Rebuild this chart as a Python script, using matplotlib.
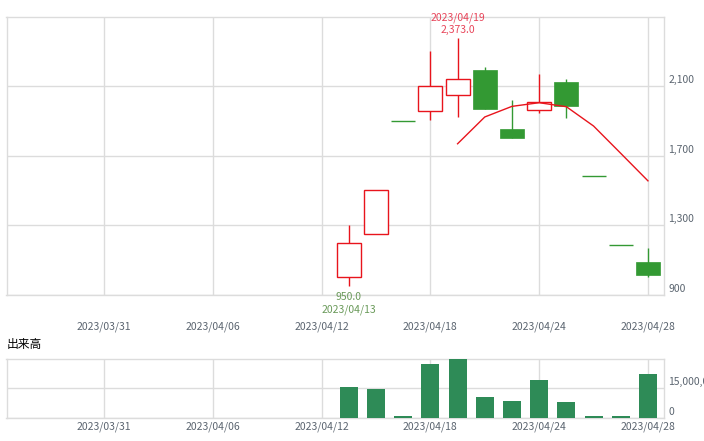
import matplotlib
matplotlib.use('Agg')
import matplotlib.pyplot as plt
from matplotlib.transforms import ScaledTranslation
from matplotlib.ticker import FuncFormatter

plt.rcParams['font.family'] = ['Noto Sans CJK JP', 'DejaVu Sans']

# trading-day calendar used for the x axis
calendar = ['2023/03/27', '2023/03/28', '2023/03/29', '2023/03/30', '2023/03/31',
            '2023/04/03', '2023/04/04', '2023/04/05', '2023/04/06', '2023/04/07',
            '2023/04/10', '2023/04/11', '2023/04/12', '2023/04/13', '2023/04/14',
            '2023/04/17', '2023/04/18', '2023/04/19', '2023/04/20', '2023/04/21',
            '2023/04/24', '2023/04/25', '2023/04/26', '2023/04/27', '2023/04/28']

candle_dates = ['2023/04/13', '2023/04/14', '2023/04/17', '2023/04/18', '2023/04/19',
                '2023/04/20', '2023/04/21', '2023/04/24', '2023/04/25', '2023/04/26',
                '2023/04/27', '2023/04/28']
opens = [1000, 1250, 1900, 1955, 2047, 2192, 1853, 1960, 2123, 1585, 1185, 1088]
highs = [1300, 1500, 1900, 2300, 2373, 2207, 2020, 2169, 2140, 1585, 1185, 1167]
lows = [950, 1250, 1900, 1904, 1920, 1969, 1799, 1943, 1914, 1585, 1185, 1000]
closes = [1200, 1500, 1900, 2100, 2138, 1969, 1803, 2006, 1985, 1585, 1185, 1015]
volumes = [15.6e6, 14.6e6, 1.0e6, 27.3e6, 29.6e6, 10.6e6, 8.6e6, 19.1e6, 8.1e6,
           1.0e6, 1.0e6, 22.3e6]

ma_dates = ['2023/04/19', '2023/04/20', '2023/04/21', '2023/04/24', '2023/04/25',
            '2023/04/26', '2023/04/27', '2023/04/28']
ma_values = [1768, 1922, 1983, 2004, 1981, 1870, 1713, 1555]

tick_dates = ['2023/03/31', '2023/04/06', '2023/04/12', '2023/04/18', '2023/04/24',
              '2023/04/28']
price_ticks = [900, 1300, 1700, 2100]
volume_ticks = [0, 15000000]

high_date, high_value = '2023/04/19', 2373.0
low_date, low_value = '2023/04/13', 950.0

# ---------------------------------------------------------------
RED = '#e8141c'
GREEN = '#339933'
VOLC = '#2e8b57'
GRID = '#dcdcdc'
TXT = '#5b6570'

pos = {d: i for i, d in enumerate(calendar)}
cx = [pos[d] for d in candle_dates]

W, H = 704, 441
fig = plt.figure(figsize=(W / 100, H / 100), dpi=100)
L, R = 6.5, 664
ax = fig.add_axes([L / W, (H - 295) / H, (R - L) / W, (295 - 17) / H])
axv = fig.add_axes([L / W, (H - 418.3) / H, (R - L) / W, (418.3 - 359) / H])

xlim = (0.415, 24.59)
for a in (ax, axv):
    a.set_xlim(*xlim)
    a.set_xticks([pos[d] for d in tick_dates])
    a.set_xticklabels(tick_dates)
    a.tick_params(axis='x', length=0, labelsize=7.5, labelcolor=TXT)
    a.tick_params(axis='y', length=0, labelsize=7.5, labelcolor=TXT, pad=3)
    a.yaxis.tick_right()
    a.grid(True, color=GRID, linewidth=1)
    a.set_axisbelow(True)
    for s in a.spines.values():
        s.set_color(GRID)
        s.set_linewidth(1)

ax.tick_params(axis='x', pad=19)
axv.tick_params(axis='x', pad=2)

# price panel
ax.set_ylim(899, 2496.5)
ax.set_yticks(price_ticks)
ax.yaxis.set_major_formatter(FuncFormatter(lambda v, p: f'{int(v):,}'))

bw = 0.88
for x, o, h, l, c in zip(cx, opens, highs, lows, closes):
    if c > o:
        ax.vlines(x, l, h, color=RED, linewidth=1, zorder=2)
        ax.bar(x, c - o, bottom=o, width=bw, facecolor='white', edgecolor=RED,
               linewidth=1, zorder=3)
    elif c < o:
        ax.vlines(x, l, h, color=GREEN, linewidth=1, zorder=2)
        ax.bar(x, o - c, bottom=c, width=bw, facecolor=GREEN, edgecolor=GREEN,
               linewidth=0.5, zorder=3)
    else:
        ax.hlines(o, x - bw / 2, x + bw / 2, color=GREEN, linewidth=1, zorder=3)

ax.plot([pos[d] for d in ma_dates], ma_values, color=RED, linewidth=1, zorder=4)

ax.annotate(f'{high_value:,.1f}', (pos[high_date], high_value), xytext=(0, 2.5),
            textcoords='offset points', ha='center', va='bottom', fontsize=7.5,
            color='#e8455a', annotation_clip=False)
ax.annotate(high_date, (pos[high_date], high_value), xytext=(0, 11),
            textcoords='offset points', ha='center', va='bottom', fontsize=7.5,
            color='#e8455a', annotation_clip=False)
ax.annotate(f'{low_value:,.1f}', (pos[low_date], low_value), xytext=(0, -4.5),
            textcoords='offset points', ha='center', va='top', fontsize=7.5,
            color='#6a9a5a', annotation_clip=False)
ax.annotate(low_date, (pos[low_date], low_value), xytext=(0, -13),
            textcoords='offset points', ha='center', va='top', fontsize=7.5,
            color='#6a9a5a', annotation_clip=False)

# volume panel
axv.bar([pos[d] for d in candle_dates], volumes, width=0.66, color=VOLC, zorder=3)
axv.set_ylim(0, 29.65e6)
axv.set_yticks(volume_ticks)
axv.yaxis.set_major_formatter(FuncFormatter(lambda v, p: f'{int(v):,}'))

off = ScaledTranslation(0, 7 / 100, fig.dpi_scale_trans)
for a in (ax, axv):
    for lab in a.get_yticklabels():
        lab.set_transform(lab.get_transform() + off)

fig.text(7 / W, 1 - 344.5 / H, '出来高', fontsize=8.5, color='black', ha='left', va='center')

fig.savefig('out.png', dpi=100)
